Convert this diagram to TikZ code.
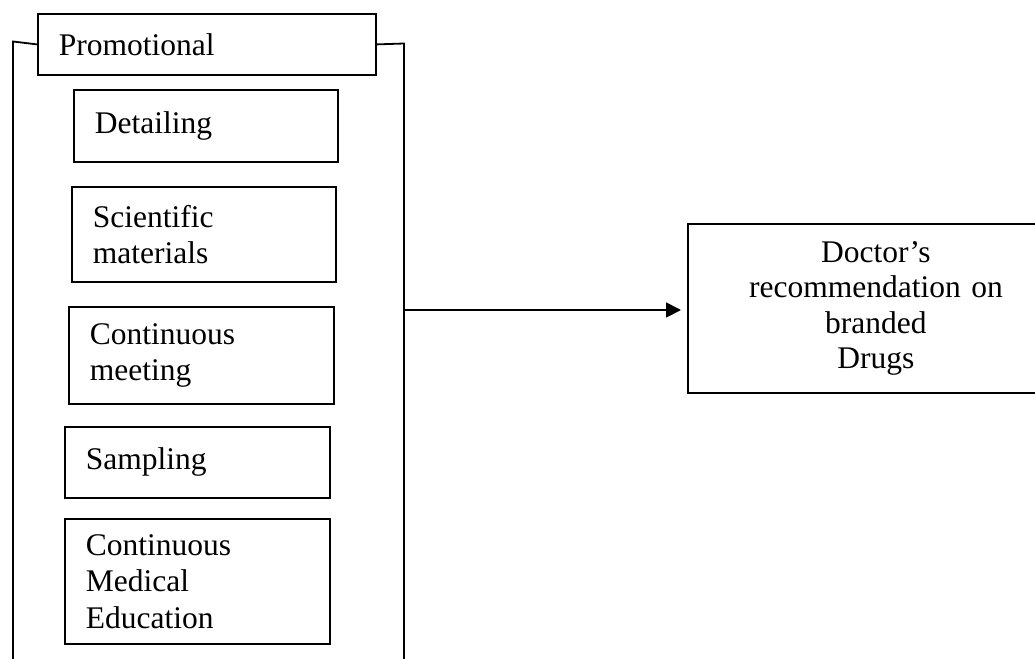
\documentclass[tikz,border=0pt]{standalone}
\usepackage{fontspec}
\setmainfont{Liberation Serif}
\usetikzlibrary{arrows.meta}
\begin{document}
\begin{tikzpicture}[x=1pt,y=-1pt,
  every node/.style={font=\fontsize{31.5}{36.5}\selectfont},
  lbox/.style={draw, line width=1.8pt, rectangle, anchor=north west, align=left,
    inner xsep=21pt, inner ysep=0pt},
  cbox/.style={draw, line width=1.8pt, rectangle, anchor=north west, align=center,
    inner sep=0pt, font=\fontsize{31.5}{35.5}\selectfont},
  conn/.style={line width=1.8pt}
]
\useasboundingbox (0,0) rectangle (1035,658);
\fill[white] (0,0) rectangle (1035,658);

\node[lbox, minimum width=338pt, minimum height=61pt, text width=296pt] (P) at (37,13) {Promotional};
\node[lbox, minimum width=264pt, minimum height=72pt, text width=222pt] (det) at (73,89) {Detailing};
\node[lbox, minimum width=264pt, minimum height=95pt, text width=222pt] (sci) at (71,186) {Scientific\\materials};
\node[lbox, minimum width=265pt, minimum height=97pt, text width=223pt] (cm) at (68,306) {Continuous\\meeting};
\node[lbox, minimum width=265pt, minimum height=71pt, text width=223pt] (samp) at (64,426) {Sampling};
\node[lbox, minimum width=265pt, minimum height=125pt, text width=223pt] (cme) at (64,518) {Continuous\\Medical\\Education};

\node[cbox, minimum width=376pt, minimum height=169pt, text width=376pt] (doc) at (687,223) {Doctor’s\\recommendation on\\branded\\Drugs};

\coordinate (lt) at (13,41.5);
\coordinate (lb) at (13,660);
\coordinate (rt) at (404,43.5);
\coordinate (rb) at (404,660);
\coordinate (src) at (404,310);

\draw[conn, line join=miter] (lb) -- (lt) -- (P.west);
\draw[conn, line join=miter] (P.east) -- (rt) -- (rb);
\draw[conn, -{Triangle[length=15pt,width=15pt]}, shorten >=6pt] (src) -- (src -| doc.west);
\end{tikzpicture}
\end{document}
